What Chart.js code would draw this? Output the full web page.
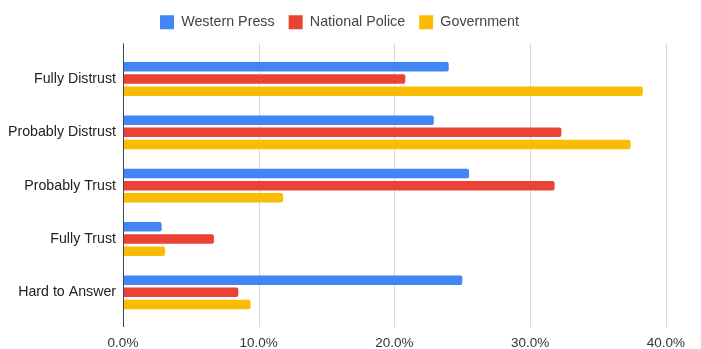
<!DOCTYPE html>
<html>
<head>
<meta charset="utf-8">
<script src="https://cdn.jsdelivr.net/npm/chart.js@4/dist/chart.umd.min.js"></script>
<style>
  html, body { margin: 0; padding: 0; background: #fff; }
  #wrap { width: 701px; height: 349px; }
</style>
</head>
<body>
<div id="wrap"><canvas id="myChart" width="701" height="349"></canvas></div>
<script>
var categories = ["Fully Distrust", "Probably Distrust", "Probably Trust", "Fully Trust", "Hard to Answer"];
var seriesNames = ["Western Press", "National Police", "Government"];
var westernPress = [24.0, 22.9, 25.5, 2.85, 25.0];
var nationalPolice = [20.8, 32.3, 31.8, 6.7, 8.5];
var government = [38.3, 37.4, 11.8, 3.1, 9.4];
var xTicks = [0, 10, 20, 30, 40];

var colors = ["#4285F4", "#EA4335", "#FBBC04"];
var font = "Liberation Sans, Arial, Helvetica, sans-serif";

// grid lines run a bit past the bars, like the sheet chart
function drawGrid(chart, zero) {
  var c = chart.ctx, area = chart.chartArea, x = chart.scales.x;
  c.save();
  c.lineWidth = 1;
  xTicks.forEach(function(v) {
    if ((v === 0) !== zero) return;
    var px = Math.round(x.getPixelForValue(v)) + 0.5;
    c.strokeStyle = zero ? "#444" : "#d9d9d9";
    c.beginPath();
    c.moveTo(px, area.top - 9);
    c.lineTo(px, area.bottom + 8);
    c.stroke();
  });
  c.restore();
}

var gridPlugin = {
  id: 'gridExt',
  beforeDatasetsDraw: function(chart) { drawGrid(chart, false); },
  afterDatasetsDraw: function(chart) { drawGrid(chart, true); }
};

// extra room under the legend
var legendGap = {
  id: 'legendGap',
  beforeInit: function(chart) {
    var fit = chart.legend.fit;
    chart.legend.fit = function() {
      fit.bind(chart.legend)();
      this.height += 13;
    };
  }
};

var data = {
  labels: categories,
  datasets: [westernPress, nationalPolice, government].map(function(vals, i) {
    return {
      label: seriesNames[i],
      data: vals,
      backgroundColor: colors[i],
      borderRadius: 2,
      borderSkipped: 'start',
      categoryPercentage: 0.685,
      barPercentage: 0.78
    };
  })
};

var options = {
  indexAxis: 'y',
  responsive: false,
  animation: false,
  layout: { padding: { top: 1, right: 22, left: 0, bottom: 2 } },
  plugins: {
    legend: {
      position: 'top',
      labels: {
        boxWidth: 14,
        boxHeight: 14,
        padding: 14,
        color: "#444",
        font: { family: font, size: 14.3 }
      }
    },
    tooltip: { enabled: false }
  },
  scales: {
    x: {
      min: 0,
      max: 40,
      afterBuildTicks: function(scale) {
        scale.ticks = xTicks.map(function(v) { return { value: v }; });
      },
      afterFit: function(scale) { scale.height = 28; },
      grid: { display: false, drawTicks: false },
      border: { display: false },
      ticks: {
        padding: 16,
        maxRotation: 0,
        color: "#333",
        font: { family: font, size: 13.5 },
        callback: function(v) { return v.toFixed(1) + "%"; }
      }
    },
    y: {
      grid: { display: false, drawTicks: false },
      border: { display: false },
      afterFit: function(scale) { scale.width = 123; },
      ticks: {
        padding: 7,
        color: "#222",
        font: { family: font, size: 14.2 }
      }
    }
  }
};

var ctx = document.getElementById("myChart");
var myChart = new Chart(ctx, {
  type: 'bar',
  data: data,
  options: options,
  plugins: [legendGap, gridPlugin]
});
</script>
</body>
</html>
